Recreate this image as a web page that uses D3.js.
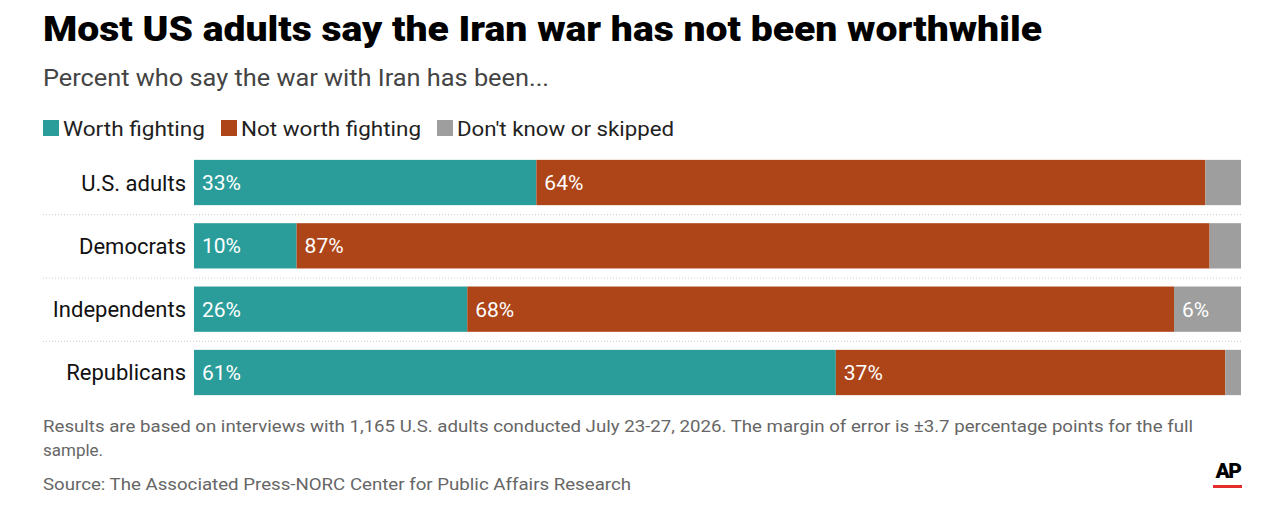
<!DOCTYPE html>
<head>
    <style>
        body { margin: 0; background: #fff; }
        svg { display: block; font-family: Roboto, "Noto Sans", sans-serif; }
    </style>
</head>
<body>
    <script src="https://d3js.org/d3.v7.min.js"></script>
    <script>
        // values (percent)
        var groups = ['U.S. adults', 'Democrats', 'Independents', 'Republicans'];
        var worth = [32.7, 9.8, 26.1, 61.3];
        var notWorth = [63.9, 87.2, 67.5, 37.2];
        var dontKnow = [3.4, 3.0, 6.4, 1.5];
        var seriesNames = ['Worth fighting', 'Not worth fighting', "Don't know or skipped"];
        var colors = ['#2a9d9a', '#ad4519', '#9e9e9e'];

        var W = 1278, H = 512;
        var svg = d3.select('body').append('svg')
                    .attr('width', W)
                    .attr('height', H);

        // fit a text to a measured width
        function fit(sel, w) {
            sel.attr('textLength', w).attr('lengthAdjust', 'spacingAndGlyphs');
            return sel;
        }

        fit(svg.append('text')
           .attr('x', 43).attr('y', 41)
           .attr('font-size', 35).attr('font-weight', 900)
           .attr('fill', '#000')
           .text('Most US adults say the Iran war has not been worthwhile'), 999);

        fit(svg.append('text')
           .attr('x', 43).attr('y', 86)
           .attr('font-size', 24).attr('fill', '#444')
           .text('Percent who say the war with Iran has been...'), 506);

        // legend
        var legX = [43, 221, 437];
        var legW = [142, 180, 217];
        var leg = svg.append('g').selectAll('g')
                     .data(seriesNames)
                     .enter().append('g')
                     .attr('transform', (d, i) => 'translate(' + legX[i] + ',120)');
        leg.append('rect').attr('width', 16).attr('height', 16)
           .attr('fill', (d, i) => colors[i]);
        leg.append('text').attr('x', 20).attr('y', 16)
           .attr('font-size', 21).attr('fill', '#222')
           .each(function(d, i) { fit(d3.select(this), legW[i]); })
           .text(d => d);

        // bars
        var x = d3.scaleLinear().domain([0, 100]).range([194, 1241]);
        var y = d3.scaleBand().domain(groups).range([151, 404]).paddingInner(0.285).paddingOuter(0.14);

        var rows = groups.map((g, i) => ({ group: g, vals: [worth[i], notWorth[i], dontKnow[i]] }));
        var stack = d3.stack().keys([0, 1, 2]).value((d, k) => d.vals[k]);
        var layers = stack(rows);

        // dotted separators
        svg.append('g').selectAll('line')
           .data(groups.slice(1))
           .enter().append('line')
           .attr('x1', 43).attr('x2', 1241)
           .attr('y1', d => y(d) - y.step() * y.paddingInner() / 2 + 0.5)
           .attr('y2', d => y(d) - y.step() * y.paddingInner() / 2 + 0.5)
           .attr('stroke', '#ccc').attr('stroke-width', 1)
           .attr('stroke-dasharray', '1,2');

        var layer = svg.append('g').selectAll('g')
                       .data(layers)
                       .enter().append('g')
                       .attr('fill', (d, i) => colors[i]);
        layer.selectAll('rect')
             .data(d => d)
             .enter().append('rect')
             .attr('x', d => x(d[0]))
             .attr('width', d => x(d[1]) - x(d[0]))
             .attr('y', d => y(d.data.group))
             .attr('height', y.bandwidth());

        layer.selectAll('text')
             .data(d => d.filter(s => s[1] - s[0] >= 5))
             .enter().append('text')
             .attr('x', d => x(d[0]) + 8)
             .attr('y', d => y(d.data.group) + y.bandwidth() / 2 + 7.5)
             .attr('font-size', 21).attr('fill', '#fff')
             .text(d => Math.round(d[1] - d[0]) + '%');

        // category labels
        svg.append('g').selectAll('text')
           .data(groups)
           .enter().append('text')
           .attr('x', 186).attr('text-anchor', 'end')
           .attr('y', d => y(d) + y.bandwidth() / 2 + 8)
           .attr('font-size', 22).attr('fill', '#111')
           .text(d => d);

        // notes
        var notes = svg.append('g').attr('font-size', 17).attr('fill', '#666');
        fit(notes.append('text').attr('x', 43).attr('y', 432)
             .text('Results are based on interviews with 1,165 U.S. adults conducted July 23-27, 2026. The margin of error is \u00b13.7 percentage points for the full'), 1150);
        notes.append('text').attr('x', 43).attr('y', 456).text('sample.');
        fit(notes.append('text').attr('x', 43).attr('y', 490)
             .text('Source: The Associated Press-NORC Center for Public Affairs Research'), 588);

        // AP logo
        svg.append('text').attr('x', 1228).attr('y', 478)
           .attr('text-anchor', 'middle')
           .attr('font-size', 21).attr('font-weight', 900)
           .attr('letter-spacing', -1.5).attr('fill', '#000')
           .text('AP');
        svg.append('rect').attr('x', 1213).attr('y', 485)
           .attr('width', 29).attr('height', 3).attr('fill', '#e32d2d');
    </script>
</body>
